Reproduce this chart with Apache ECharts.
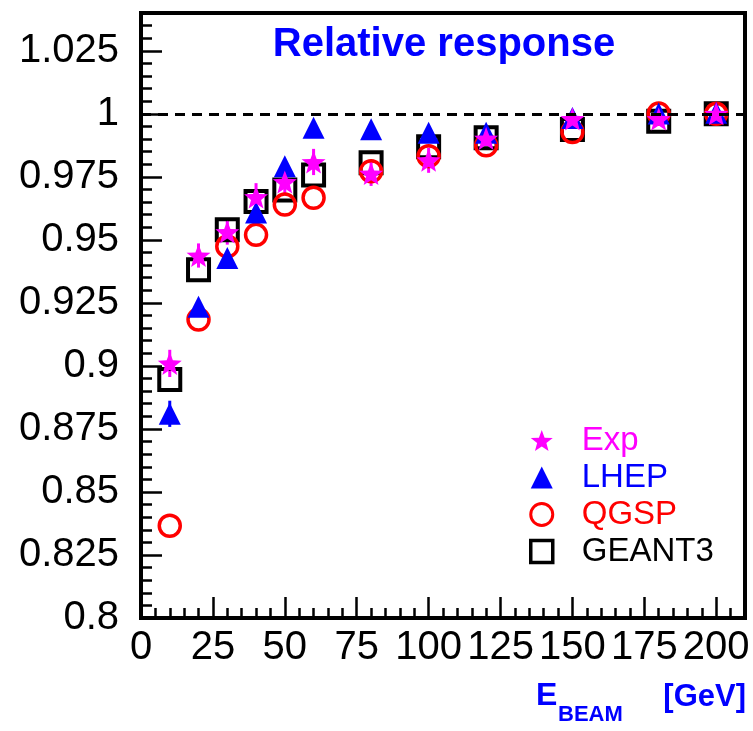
<!DOCTYPE html>
<html>
<head>
<meta charset="utf-8">
<title>Relative response</title>
<script src="https://cdn.jsdelivr.net/npm/echarts@6/dist/echarts.min.js"></script>
<style>
  html, body { margin: 0; padding: 0; background: #fff; }
  #chart { width: 753px; height: 731px; }
</style>
</head>
<body>
<div id="chart"></div>
<script>
// Beam energies (GeV)
const energies = [10, 20, 30, 40, 50, 60, 80, 100, 120, 150, 180, 200];

// Measured relative response and its uncertainty
const expResp = [0.901, 0.9438, 0.9531, 0.967, 0.973, 0.9809, 0.9763, 0.9816, 0.9902, 0.998, 0.998, 1.000];
const expErr  = [0.0054, 0.0048, 0.005, 0.0055, 0.0054, 0.0052, 0.0049, 0.005, 0.003, 0.002, 0.002, 0.002];

// Simulations
const lhepResp   = [0.881, 0.9235, 0.9428, 0.9609, 0.9792, 0.9945, 0.9939, 0.9925, 0.9925, 0.9983, 1.0001, 1.0004];
const lhepErr    = [0.0052, 0.002, 0.002, 0.002, 0.002, 0.002, 0.002, 0.002, 0.002, 0.002, 0.002, 0.002];
const qgspResp   = [0.8366, 0.9184, 0.9474, 0.952, 0.964, 0.9667, 0.9772, 0.9832, 0.9875, 0.9928, 1.0001, 1.000];
const geant3Resp = [0.8946, 0.9381, 0.954, 0.9652, 0.9698, 0.9757, 0.9806, 0.9869, 0.9905, 0.9938, 0.9971, 1.000];

// Axis ranges and tick labels
const xMin = 0, xMax = 210, xStep = 25;
const yMin = 0.8, yMax = 1.04, yStep = 0.025;
const xTickLabels = ['0', '25', '50', '75', '100', '125', '150', '175', '200'];
const yTickLabels = ['0.8', '0.825', '0.85', '0.875', '0.9', '0.925', '0.95', '0.975', '1', '1.025'];

const MAGENTA = '#ff00ff', BLUE = '#0000ff', RED = '#ff0000', BLACK = '#000000';
const FONT = 'Liberation Sans';

// Five-pointed star symbol
function starPath(R, r) {
  let d = '';
  for (let k = 0; k < 10; k++) {
    const rad = (k % 2 === 0) ? R : r;
    const a = -Math.PI / 2 + k * Math.PI / 5;
    const px = (R + rad * Math.cos(a)).toFixed(2);
    const py = (R + rad * Math.sin(a)).toFixed(2);
    d += (k === 0 ? 'M' : 'L') + px + ' ' + py + ' ';
  }
  return 'path://' + d + 'Z';
}
const STAR = starPath(50, 21);

function pairs(ys) { return energies.map((x, i) => [x, ys[i]]); }
function triples(ys, es) { return energies.map((x, i) => [x, ys[i], es[i]]); }

function errorBars(color) {
  return function (params, api) {
    const x = api.value(0), y = api.value(1), e = api.value(2);
    const p1 = api.coord([x, y - e]);
    const p2 = api.coord([x, y + e]);
    return {
      type: 'line',
      shape: { x1: p1[0], y1: p1[1], x2: p2[0], y2: p2[1] },
      style: { stroke: color, lineWidth: 3 }
    };
  };
}

function labelFrom(list, min, step) {
  return function (v) {
    const i = Math.round((v - min) / step);
    if (Math.abs(min + i * step - v) > step * 1e-3) return '';
    return list[i] !== undefined ? list[i] : '';
  };
}

const chart = echarts.init(document.getElementById('chart'), null, { renderer: 'canvas' });

chart.setOption({
  animation: false,
  backgroundColor: '#ffffff',
  grid: {
    left: 141, top: 13, right: 8, bottom: 113,
    show: true, borderColor: BLACK, borderWidth: 4, backgroundColor: 'transparent'
  },
  xAxis: {
    type: 'value', min: xMin, max: xMax, interval: xStep,
    axisLine: { show: true, lineStyle: { color: BLACK, width: 4 } },
    axisTick: { show: true, inside: true, length: 21, lineStyle: { color: BLACK, width: 2.5 } },
    minorTick: { show: true, splitNumber: 5, length: 10, lineStyle: { color: BLACK, width: 2.5 } },
    splitLine: { show: false },
    axisLabel: {
      color: BLACK, fontFamily: FONT, fontSize: 40, margin: 10,
      showMaxLabel: false, formatter: labelFrom(xTickLabels, xMin, xStep)
    }
  },
  yAxis: {
    type: 'value', min: yMin, max: yMax, interval: yStep,
    axisLine: { show: true, lineStyle: { color: BLACK, width: 4 } },
    axisTick: { show: true, inside: true, length: 21, lineStyle: { color: BLACK, width: 2.5 } },
    minorTick: { show: true, splitNumber: 5, length: 11, lineStyle: { color: BLACK, width: 2.5 } },
    splitLine: { show: false },
    axisLabel: {
      color: BLACK, fontFamily: FONT, fontSize: 40, margin: 22,
      showMaxLabel: false, formatter: labelFrom(yTickLabels, yMin, yStep)
    }
  },
  legend: {
    orient: 'vertical', left: 524, top: 419,
    itemWidth: 22, itemHeight: 22, itemGap: 4,
    symbolKeepAspect: true,
    selectedMode: false,
    textStyle: { fontFamily: FONT, fontSize: 33, padding: [0, 0, 0, 24] },
    data: [
      { name: 'Exp', textStyle: { color: MAGENTA },
        itemStyle: { color: MAGENTA, opacity: 1 } },
      { name: 'LHEP', textStyle: { color: BLUE },
        itemStyle: { color: BLUE, opacity: 1 } },
      { name: 'QGSP', textStyle: { color: RED },
        itemStyle: { color: 'rgba(0,0,0,0)', borderColor: RED, borderWidth: 3, opacity: 1 } },
      { name: 'GEANT3', textStyle: { color: BLACK },
        itemStyle: { color: 'rgba(0,0,0,0)', borderColor: BLACK, borderWidth: 3.5, opacity: 1 } }
    ]
  },
  graphic: [
    {
      type: 'text', x: 444, y: 45, z: 10,
      style: { text: 'Relative response', fill: BLUE, font: 'bold 40px "Liberation Sans"',
               align: 'center', verticalAlign: 'middle' }
    },
    {
      type: 'text', x: 536, y: 696, z: 10,
      style: { text: 'E', fill: BLUE, font: 'bold 32px "Liberation Sans"',
               align: 'left', verticalAlign: 'middle' }
    },
    {
      type: 'text', x: 558, y: 715, z: 10,
      style: { text: 'BEAM', fill: BLUE, font: 'bold 22px "Liberation Sans"',
               align: 'left', verticalAlign: 'middle' }
    },
    {
      type: 'text', x: 746, y: 697, z: 10,
      style: { text: '[GeV]', fill: BLUE, font: 'bold 31px "Liberation Sans"',
               align: 'right', verticalAlign: 'middle' }
    }
  ],
  series: [
    {
      name: 'GEANT3', type: 'scatter', symbol: 'rect', symbolSize: 21,
      itemStyle: { color: 'rgba(0,0,0,0)', borderColor: BLACK, borderWidth: 4, opacity: 1 },
      data: pairs(geant3Resp),
      markLine: {
        silent: true, symbol: ['none', 'none'],
        label: { show: false },
        lineStyle: { color: BLACK, width: 3, type: [10, 7], opacity: 1 },
        data: [{ yAxis: 1 }]
      }
    },
    {
      name: 'QGSP', type: 'scatter', symbol: 'circle', symbolSize: 21,
      itemStyle: { color: 'rgba(0,0,0,0)', borderColor: RED, borderWidth: 3.5, opacity: 1 },
      data: pairs(qgspResp)
    },
    {
      name: 'LHEP error', type: 'custom', renderItem: errorBars(BLUE),
      data: triples(lhepResp, lhepErr)
    },
    {
      name: 'LHEP', type: 'scatter', symbol: 'triangle', symbolSize: 22,
      itemStyle: { color: BLUE, opacity: 1 },
      data: pairs(lhepResp)
    },
    {
      name: 'Exp error', type: 'custom', renderItem: errorBars(MAGENTA),
      data: triples(expResp, expErr)
    },
    {
      name: 'Exp', type: 'scatter', symbol: STAR, symbolSize: [24, 23],
      itemStyle: { color: MAGENTA, opacity: 1 },
      data: pairs(expResp)
    }
  ]
});
</script>
</body>
</html>
